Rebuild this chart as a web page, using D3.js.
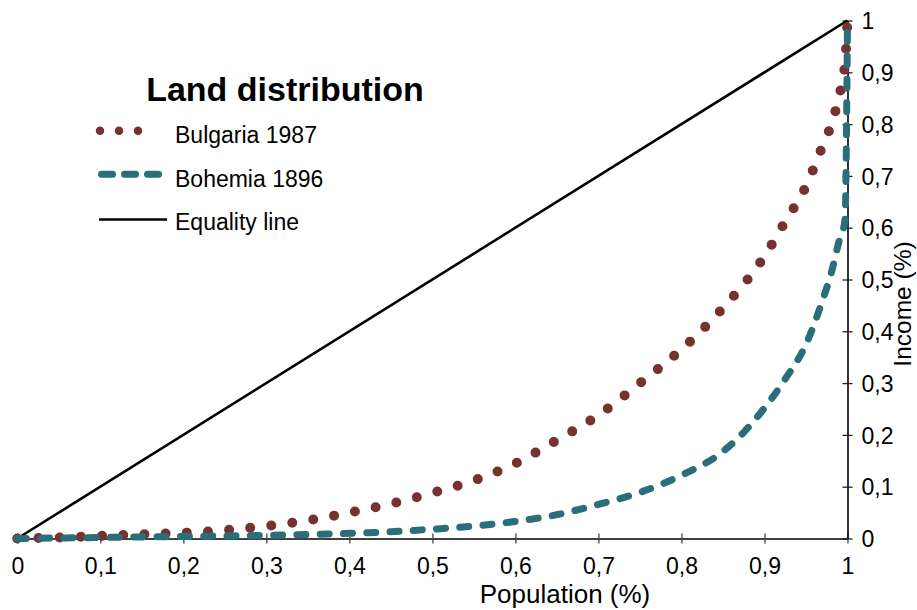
<!DOCTYPE html>
<html>
<head>
<meta charset="utf-8">
<script src="https://cdn.jsdelivr.net/npm/d3@7/dist/d3.min.js"></script>
<style>
  html, body { margin: 0; padding: 0; background: #fff; }
  svg { display: block; font-family: "Liberation Sans", Arial, Helvetica, sans-serif; }
</style>
</head>
<body>
<svg id="chart" width="917" height="610"></svg>
<script>
// ---- Data ----
const xTicks = [0, 0.1, 0.2, 0.3, 0.4, 0.5, 0.6, 0.7, 0.8, 0.9, 1];
const xTickLabels = ["0", "0,1", "0,2", "0,3", "0,4", "0,5", "0,6", "0,7", "0,8", "0,9", "1"];
const yTicks = [0, 0.1, 0.2, 0.3, 0.4, 0.5, 0.6, 0.7, 0.8, 0.9, 1];
const yTickLabels = ["0", "0,1", "0,2", "0,3", "0,4", "0,5", "0,6", "0,7", "0,8", "0,9", "1"];

const bulgariaX = [0, 0.05, 0.1, 0.15, 0.2, 0.25, 0.3, 0.35, 0.4, 0.45, 0.5, 0.55, 0.6, 0.65, 0.7, 0.75, 0.8, 0.85, 0.9, 0.925, 0.95, 0.97, 0.98, 0.99, 0.997, 1];
const bulgariaY = [0, 0.002, 0.005, 0.008, 0.011, 0.016, 0.024, 0.035, 0.05, 0.067, 0.088, 0.112, 0.145, 0.19, 0.238, 0.3, 0.365, 0.445, 0.545, 0.612, 0.68, 0.758, 0.797, 0.855, 0.917, 1];

const bohemiaX = [0, 0.1, 0.2, 0.3, 0.4, 0.45, 0.5, 0.55, 0.6, 0.65, 0.7, 0.75, 0.8, 0.85, 0.875, 0.9, 0.925, 0.95, 0.97, 0.98, 0.99, 0.997, 1];
const bohemiaY = [0, 0.002, 0.004, 0.006, 0.01, 0.013, 0.018, 0.024, 0.033, 0.046, 0.066, 0.089, 0.122, 0.168, 0.205, 0.252, 0.308, 0.375, 0.46, 0.51, 0.575, 0.615, 1];

const equalityX = [0, 1];
const equalityY = [0, 1];

const seriesNames = ["Bulgaria 1987", "Bohemia 1896", "Equality line"];
const titleText = "Land distribution";
const xAxisTitle = "Population (%)";
const yAxisTitle = "Income (%)";

// ---- Chart ----
const svg = d3.select("#chart");
const x = d3.scaleLinear().domain([0, 1]).range([17.3, 847.5]);
const y = d3.scaleLinear().domain([0, 1]).range([538.5, 20.5]);

const colBul = "#773230";
const colBoh = "#2a6e79";

// X axis
const xAxis = svg.append("g")
  .attr("transform", `translate(0,${y(0)})`)
  .call(d3.axisBottom(x).tickValues(xTicks).tickFormat((d, i) => xTickLabels[i]).tickSize(5).tickSizeOuter(0).tickPadding(14));
xAxis.select(".domain").attr("stroke", "#000").attr("stroke-width", 1.6);
xAxis.selectAll(".tick line").attr("y1", -5).attr("y2", 5).attr("stroke", "#444").attr("stroke-width", 1.3);
xAxis.selectAll(".tick text").attr("font-size", 23).attr("fill", "#000").attr("font-family", "Liberation Sans, Arial, sans-serif");

// Y axis
const yAxis = svg.append("g")
  .attr("transform", `translate(${x(1)},0)`)
  .call(d3.axisRight(y).tickValues(yTicks).tickFormat((d, i) => yTickLabels[i]).tickSize(5).tickSizeOuter(0));
yAxis.select(".domain").attr("stroke", "#000").attr("stroke-width", 1.6);
yAxis.selectAll(".tick line").attr("x1", -5).attr("x2", 5).attr("stroke", "#222").attr("stroke-width", 1.3);
yAxis.selectAll(".tick text").attr("x", 14).attr("dy", "0.36em").attr("font-size", 23).attr("fill", "#000").attr("font-family", "Liberation Sans, Arial, sans-serif");

// Lines
const line = d3.line().x(d => x(d[0])).y(d => y(d[1]));
const lineCurve = d3.line().x(d => x(d[0])).y(d => y(d[1])).curve(d3.curveMonotoneX);

svg.append("path")
  .datum(equalityX.map((v, i) => [v, equalityY[i]]))
  .attr("d", line)
  .attr("fill", "none").attr("stroke", "#000").attr("stroke-width", 2.6);

svg.append("path")
  .datum(bulgariaX.map((v, i) => [v, bulgariaY[i]]))
  .attr("d", lineCurve)
  .attr("fill", "none").attr("stroke", colBul).attr("stroke-width", 10)
  .attr("stroke-linecap", "round").attr("stroke-dasharray", "0,21.2");

svg.append("path")
  .datum(bohemiaX.map((v, i) => [v, bohemiaY[i]]))
  .attr("d", lineCurve)
  .attr("fill", "none").attr("stroke", colBoh).attr("stroke-width", 7)
  .attr("stroke-linecap", "round").attr("stroke-dasharray", "9,14.3");

// Axis titles
svg.append("text")
  .attr("x", 565).attr("y", 603)
  .attr("text-anchor", "middle").attr("font-size", 26).attr("fill", "#000")
  .text(xAxisTitle);

svg.append("text")
  .attr("transform", "translate(911,304) rotate(-90)")
  .attr("text-anchor", "middle").attr("font-size", 24.5).attr("fill", "#000")
  .text(yAxisTitle);

// Title + legend
svg.append("text")
  .attr("x", 285).attr("y", 101)
  .attr("text-anchor", "middle").attr("font-size", 34).attr("font-weight", "bold").attr("fill", "#000")
  .text(titleText);

const leg = svg.append("g");
leg.append("line").attr("x1", 100).attr("x2", 157).attr("y1", 130.7).attr("y2", 130.7)
  .attr("stroke", colBul).attr("stroke-width", 8.5).attr("stroke-linecap", "round").attr("stroke-dasharray", "0,19");
leg.append("line").attr("x1", 101.5).attr("x2", 158.5).attr("y1", 174.3).attr("y2", 174.3)
  .attr("stroke", colBoh).attr("stroke-width", 7).attr("stroke-linecap", "round").attr("stroke-dasharray", "11,12");
leg.append("line").attr("x1", 99).attr("x2", 167).attr("y1", 219.5).attr("y2", 219.5)
  .attr("stroke", "#000").attr("stroke-width", 2.6);

const legY = [143, 187, 230];
seriesNames.forEach((n, i) => {
  leg.append("text").attr("x", 175).attr("y", legY[i])
    .attr("font-size", 23).attr("fill", "#000").text(n);
});
</script>
</body>
</html>
